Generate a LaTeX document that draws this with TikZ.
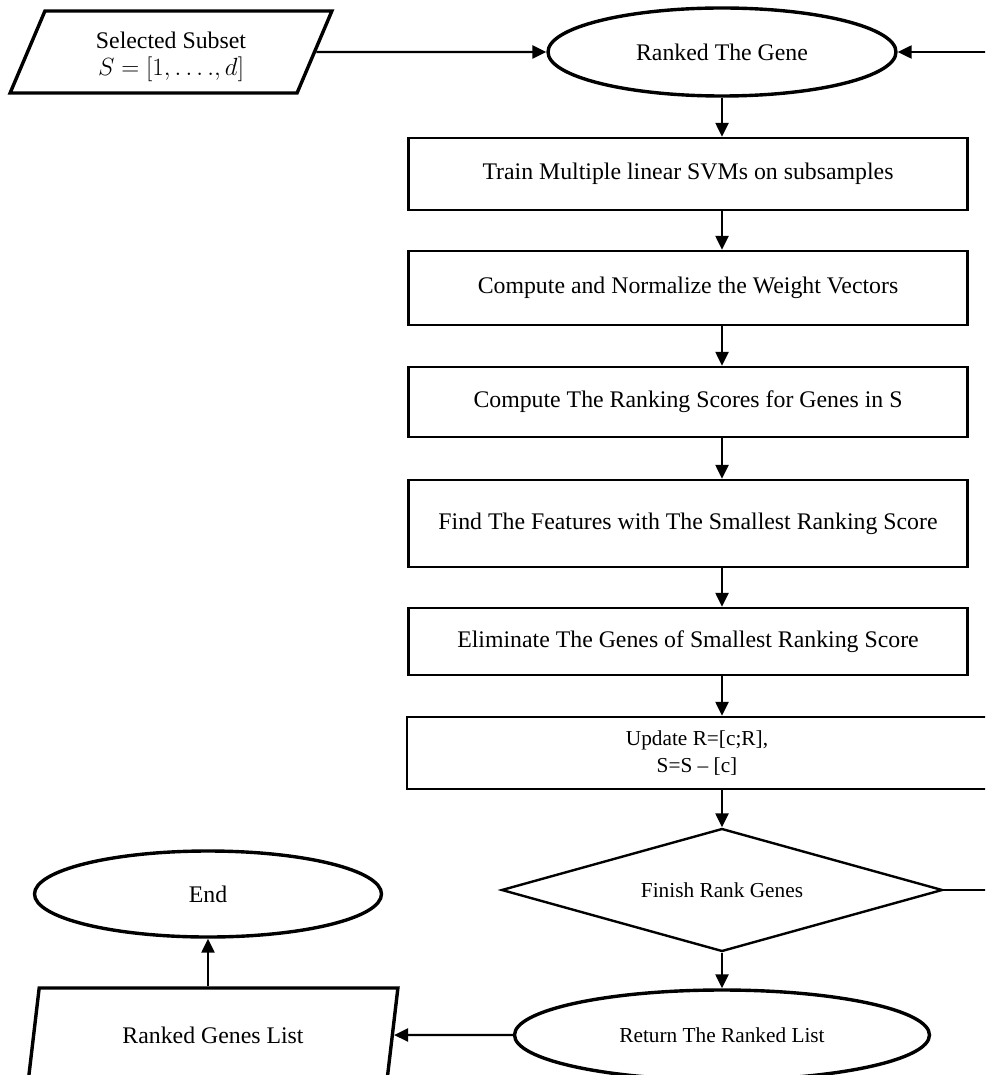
\documentclass[tikz,border=0pt]{standalone}
\usepackage{fontspec}
\setmainfont{Liberation Serif}
\usetikzlibrary{arrows.meta,shapes.geometric}
\newcommand{\bigtxt}{\fontsize{23.8}{23}\selectfont}
\newcommand{\smtxt}{\fontsize{21.3}{27}\selectfont}
\tikzset{
  box/.style={draw,line width=2.4pt,minimum width=559pt,inner sep=0pt,
              align=center,font=\bigtxt},
  term/.style={ellipse,draw,line width=3.4pt,inner sep=0pt,align=center,
              font=\bigtxt},
  iobox/.style={trapezium,trapezium left angle=71,trapezium right angle=109,
              trapezium stretches=true,draw,line width=3.4pt,inner sep=0pt,
              align=center,font=\bigtxt},
  decide/.style={diamond,shape aspect=3.6,draw,line width=2.4pt,inner sep=0pt,
              font=\smtxt},
  arr/.style={-{Triangle[length=14pt,width=13pt]},line width=2.4pt},
}

\begin{document}
\begin{tikzpicture}[x=1pt,y=-1pt]
  \useasboundingbox (0,0) rectangle (985,1075);
  \clip (0,0) rectangle (985,1075);
  % input and start of the loop
  \node[iobox,minimum width=322pt,minimum height=82pt] (subset) at (171,52)
    {\rule{0pt}{27pt}Selected Subset\\[4pt]$S=[1,\dots.,d]$};
  \node[term,minimum width=348pt,minimum height=88pt] (rank) at (722,52) {Ranked The Gene};
  % steps
  \node[box,minimum height=72pt] (train) at (688,174) {Train Multiple linear SVMs on subsamples};
  \node[box,minimum height=74pt] (norm) at (688,288) {Compute and Normalize the Weight Vectors};
  \node[box,minimum height=70pt] (score) at (688,402) {Compute The Ranking Scores for Genes in S};
  \node[box,minimum height=87pt] (small) at (688,523.5) {Find The Features with The Smallest Ranking Score};
  \node[box,minimum height=67pt] (elim) at (688,641.5) {Eliminate The Genes of Smallest Ranking Score};
  \node[box,minimum width=580pt,minimum height=72pt,font=\smtxt] (upd) at (697,753)
    {Update R=[c;R],\\S=S -- [c]};
  \node[decide,minimum width=441pt,minimum height=123pt] (fin) at (722,890) {Finish Rank Genes};
  % output
  \node[term,minimum width=415pt,minimum height=90pt,font=\smtxt] (ret) at (722,1035) {Return The Ranked List};
  \node[iobox,minimum width=370pt,minimum height=94pt] (list) at (213,1035) {Ranked Genes List};
  \node[term,minimum width=347pt,minimum height=86pt] (done) at (208,894) {End};

  \draw[arr] (subset.east) -- (rank.west);
  \foreach \a/\b in {rank/train,train/norm,norm/score,score/small,small/elim,elim/upd,upd/fin,fin/ret}
    \draw[arr] (\a.south -| rank) -- (\b.north -| rank);
  \draw[arr] (fin.east) -- ++(80,0) |- (rank.east);
  \draw[arr] (ret.west) -- (list.east);
  \draw[arr] (done.south |- list.north) -- (done.south);
\end{tikzpicture}
\end{document}
